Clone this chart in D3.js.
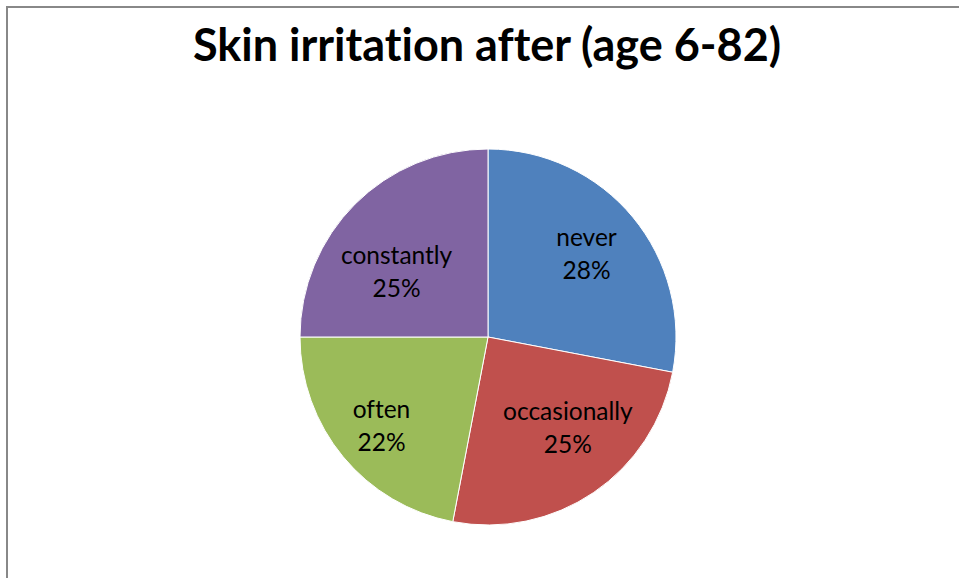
<!DOCTYPE html>
<html>
<head>
<meta charset="utf-8">
<script src="https://cdn.jsdelivr.net/npm/d3@7"></script>
<style>
  html, body { margin: 0; padding: 0; background: #fff; }
  svg { display: block; }
  text { font-variant-ligatures: none; font-feature-settings: "liga" 0; }
</style>
</head>
<body>
<svg id="chart" width="959" height="578"></svg>
<script>
const title = "Skin irritation after (age 6-82)";
const categories = ["never", "occasionally", "often", "constantly"];
const values = [28, 25, 22, 25];
const colors = ["#4F81BD", "#C0504D", "#9BBB59", "#8064A2"];

const W = 959, H = 578;
const svg = d3.select("#chart");
const fontFamily = "Lato, 'Open Sans', 'DejaVu Sans', sans-serif";

// chart frame
svg.append("rect")
  .attr("x", 7).attr("y", 7)
  .attr("width", W + 10).attr("height", H + 10)
  .attr("fill", "#fff")
  .attr("stroke", "#888").attr("stroke-width", 2);

// title
svg.append("text")
  .attr("x", 487).attr("y", 61)
  .attr("text-anchor", "middle")
  .attr("font-family", fontFamily)
  .attr("font-weight", "bold")
  .attr("font-size", 45)
  .attr("fill", "#000")
  .text(title);

const cx = 488, cy = 337, r = 188;
const data = categories.map((c, i) => ({ cat: c, value: values[i], color: colors[i] }));
const total = d3.sum(values);

const pie = d3.pie().value(d => d.value).sort(null);
const arc = d3.arc().innerRadius(0).outerRadius(r);
const labelArc = d3.arc().innerRadius(r * 0.68).outerRadius(r * 0.68);
// best-fit style nudges of label boxes (layout only)
const labelNudge = { never: [0, -1], occasionally: [8, -14], often: [-8, 9], constantly: [-1, 26] };

const g = svg.append("g").attr("transform", `translate(${cx},${cy})`);
const arcs = pie(data);

g.selectAll("path.slice")
  .data(arcs)
  .join("path")
  .attr("class", "slice")
  .attr("d", arc)
  .attr("fill", d => d.data.color)
  .attr("stroke", "#fff")
  .attr("stroke-width", 1);

const fmt = d => Math.round(d.data.value / total * 100) + "%";

const labels = g.selectAll("g.label")
  .data(arcs)
  .join("g")
  .attr("class", "label")
  .attr("transform", d => {
    const [x, y] = labelArc.centroid(d);
    const [nx, ny] = labelNudge[d.data.cat] || [0, 0];
    return `translate(${x + nx},${y + ny})`;
  });

labels.append("text")
  .attr("text-anchor", "middle")
  .attr("font-family", fontFamily)
  .attr("font-size", 24.5)
  .attr("fill", "#000")
  .attr("y", -9)
  .text(d => d.data.cat);

labels.append("text")
  .attr("text-anchor", "middle")
  .attr("font-family", fontFamily)
  .attr("font-size", 24.5)
  .attr("fill", "#000")
  .attr("y", 24)
  .text(fmt);
</script>
</body>
</html>
